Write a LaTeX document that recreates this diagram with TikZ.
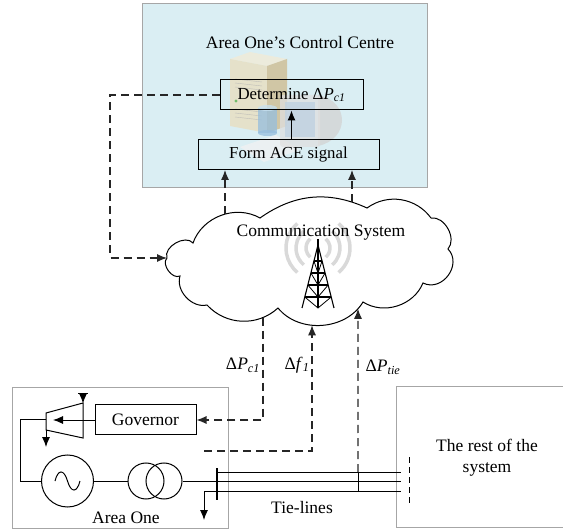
\documentclass[tikz,border=0pt]{standalone}
\usepackage{fontspec}
\setmainfont{Liberation Serif}
\usetikzlibrary{arrows.meta,intersections,calc}
\definecolor{ccfill}{HTML}{DAEEF3}
\definecolor{frameg}{HTML}{A6A6A6}
\definecolor{sigc}{HTML}{262626}
\definecolor{srvtop}{HTML}{F3EBD5}
\definecolor{srvfront}{HTML}{E9DDBD}
\definecolor{srvside}{HTML}{CDB98C}
\definecolor{dbblue}{HTML}{96BEDE}
\definecolor{dbtop}{HTML}{C8E1F0}
\definecolor{scrn}{HTML}{BED0E1}
\newcommand{\lowsub}[1]{\textsubscript{\textit{#1}}}
\begin{document}
\begin{tikzpicture}[x=1pt,y=1pt,
  font=\fontsize{17.5}{20}\selectfont,
  frame/.style={draw=frameg,line width=1.1pt},
  blockbox/.style={draw=black,line width=1pt,inner sep=0pt,minimum height=30},
  smalltext/.style={font=\fontsize{16.8}{19}\selectfont},
  sig/.style={draw=sigc,line width=1.1pt,dash pattern=on 8pt off 5pt,
    -{Latex[length=10pt,width=8pt]}},
  solidarrow/.style={draw=black,line width=1pt,-{Latex[length=10pt,width=8pt]}},
  wire/.style={draw=black,line width=1pt},
  wave/.style={draw=gray!30,line width=3.5pt},
  lattice/.style={draw=black,line width=1.1pt}]
\useasboundingbox (0,0) rectangle (563,531);

% ---------- control centre ----------
\node[frame,fill=ccfill,minimum width=285,minimum height=184,anchor=south west,inner sep=0]
  (cc) at (142,343) {};
\node (cctitle) at (300,488) {Area One’s Control Centre};

% computer equipment in the background
\begin{scope}[opacity=0.75,line width=0.4pt]
  \fill[white!90!gray] (240,384) -- (276,396) -- (300,381) -- (264,369) -- cycle;
  \fill[srvtop] (230,472) -- (250,479) -- (287,472) -- (267,465) -- cycle;
  \fill[srvfront] (230,472) -- (267,465) -- (267,398) -- (230,405) -- cycle;
  \fill[srvside] (267,465) -- (287,472) -- (287,405) -- (267,398) -- cycle;
  \foreach \yy in {452,448,444,422,418,414}
    \draw[gray!60] (235,\yy) -- (262,\yy-3);
  \fill[green!40!gray] (236,430) circle (1.6);
  \fill[dbblue] (258,398) rectangle (277,423);
  \fill[dbblue] (267.5,398) ellipse (9.5 and 3);
  \fill[dbtop] (267.5,423) ellipse (9.5 and 3);
  \fill[gray!35] (318,436) .. controls (350,430) and (350,392) .. (318,385) -- cycle;
  \fill[gray!25,rounded corners=3] (280,384) rectangle (320,436);
  \fill[scrn] (285,394) rectangle (315,429);
\end{scope}

\node[blockbox,smalltext,minimum width=143] (det) at (291.5,436)
  {Determine Δ\textit{P}\lowsub{c1}};
\node[blockbox,smalltext,minimum width=181] (form) at (288.5,376.5) {Form ACE signal};
\draw[solidarrow] (form.north -| det.south) -- (det.south);

% ---------- communication system ----------
\foreach \r in {12,22,32} {
  \draw[wave] (318,283) ++(130:\r) arc (130:230:\r);
  \draw[wave] (318,283) ++(-50:\r) arc (-50:50:\r);
}

\coordinate (cl) at (167,273);
\draw[name path=cloud,wire]
  (cl) to[bend left=80] (193,288)
  to[bend left=50] (260,313)
  to[bend left=30] (367,323)
  to[bend left=45] (431,313)
  to[bend left=70] (448,282)
  to[bend left=80,looseness=1.3] (423,248)
  to[bend left=50] (363,229)
  to[bend left=55] (278,223)
  to[bend left=45] (207,226)
  to[bend left=60] (180,255)
  to[bend left=80] (cl);
\node (cloudtext) at (321,298) {Communication System};

% transmission tower
\draw[lattice] (318,286) -- (302,223);
\draw[lattice] (318,286) -- (334,223);
\draw[lattice,line width=1.5pt] (318,292) -- (318,223);
\foreach \yy/\zz in {270/258,258/246,246/234,234/223} {
  \pgfmathsetmacro\hh{16*(286-\yy)/63}
  \draw[lattice] (318-\hh,\yy) -- (318+\hh,\yy);
  \draw[lattice,line width=0.8pt] (318-\hh,\yy) -- (318,\zz) -- (318+\hh,\yy);
}

% points where the signal lines meet the cloud
\path[name path=vA] (225,300) -- (225,360);
\path[name path=vB] (352,300) -- (352,360);
\path[name path=vC] (263,190) -- (263,240);
\path[name path=vD] (312,190) -- (312,240);
\path[name path=vE] (358,190) -- (358,240);
\path[name intersections={of=cloud and vA,by=ctA}];
\path[name intersections={of=cloud and vB,by=ctB}];
\path[name intersections={of=cloud and vC,by=cbC}];
\path[name intersections={of=cloud and vD,by=cbD}];
\path[name intersections={of=cloud and vE,by=cbE}];

\draw[sig] (ctA) -- (ctA |- form.south);
\draw[sig] (ctB) -- (ctB |- form.south);
\coordinate (dl) at (110,273);
\draw[sig] (det.west) -| (dl) -- (cl);

% ---------- area one ----------
\node[frame,minimum width=216,minimum height=141,anchor=south west,inner sep=0]
  (area) at (12,2) {};
\node (areatext) at (126,13) {Area One};
\node[frame,minimum width=170,minimum height=141,anchor=south west,inner sep=0]
  (rest) at (396,3) {};
\node[align=center,font=\fontsize{17.5}{21}\selectfont] (resttext) at (487,73)
  {The rest of the\\system};

\node[blockbox,minimum width=101] (gov) at (145.5,111) {Governor};

% turbine
\draw[wire] (46,118) -- (83,128) -- (83,93) -- (46,101) -- cycle;
\draw[solidarrow,line width=0.9pt] (gov.west) -- (53,111);
\coordinate (stm) at (83,137);
\draw[solidarrow,line width=0.9pt] (stm) -- (83,127.5);
\draw[wire] (78,137) -- (88,137);
\coordinate (exh) at (46,84);
\draw[solidarrow,line width=0.9pt] (46,101) -- (exh);

% generator and transformer
\node[circle,draw,line width=1pt,minimum size=52,inner sep=0] (gen) at (67.5,50) {};
\draw[wire] (55,50) .. controls (58,62) and (64,62) .. (67.5,50)
  .. controls (71,38) and (77,38) .. (80,50);
\node[circle,draw,line width=1pt,minimum size=36,inner sep=0] (tra) at (146,50) {};
\node[circle,draw,line width=1pt,minimum size=36,inner sep=0] (trb) at (164,50) {};
\draw[wire] (46,111) -- (20,111) |- (gen.west);
\draw[wire] (gen.east) -- (tra.west);

% bus and tie-lines
\coordinate (bt) at (217,63);
\coordinate (bb) at (217,31);
\draw[wire,line width=1.2pt] (bt) -- (bb);
\draw[wire] (trb.east) -- (401,50);
\draw[wire] (217,59) -- (401,59);
\coordinate (ld) at (204,40);
\draw[wire] (ld) -- (401,40);
\draw[solidarrow,line width=0.9pt] (ld) -- (204,11);
\draw[draw=black,line width=1pt,dash pattern=on 6pt off 4pt] (409,74) -- (409,26);
\node (tietext) at (302,23) {Tie-lines};

% signals from area one
\draw[sig] (cbC) |- (gov.east);
\coordinate (fs) at (204,80);
\draw[sig] (fs) -| (cbD);
\coordinate (tj) at (358,59);
\draw[wire] (358,40) -- (tj);
\draw[sig] (tj) -- (cbE);

\node (lpc) at (243,166) {Δ\textit{P}\lowsub{c1}};
\node (lf) at (297,166) {Δ\textit{f}\lowsub{1}};
\node (lpt) at (383,164) {Δ\textit{P}\lowsub{tie}};
\end{tikzpicture}
\end{document}
